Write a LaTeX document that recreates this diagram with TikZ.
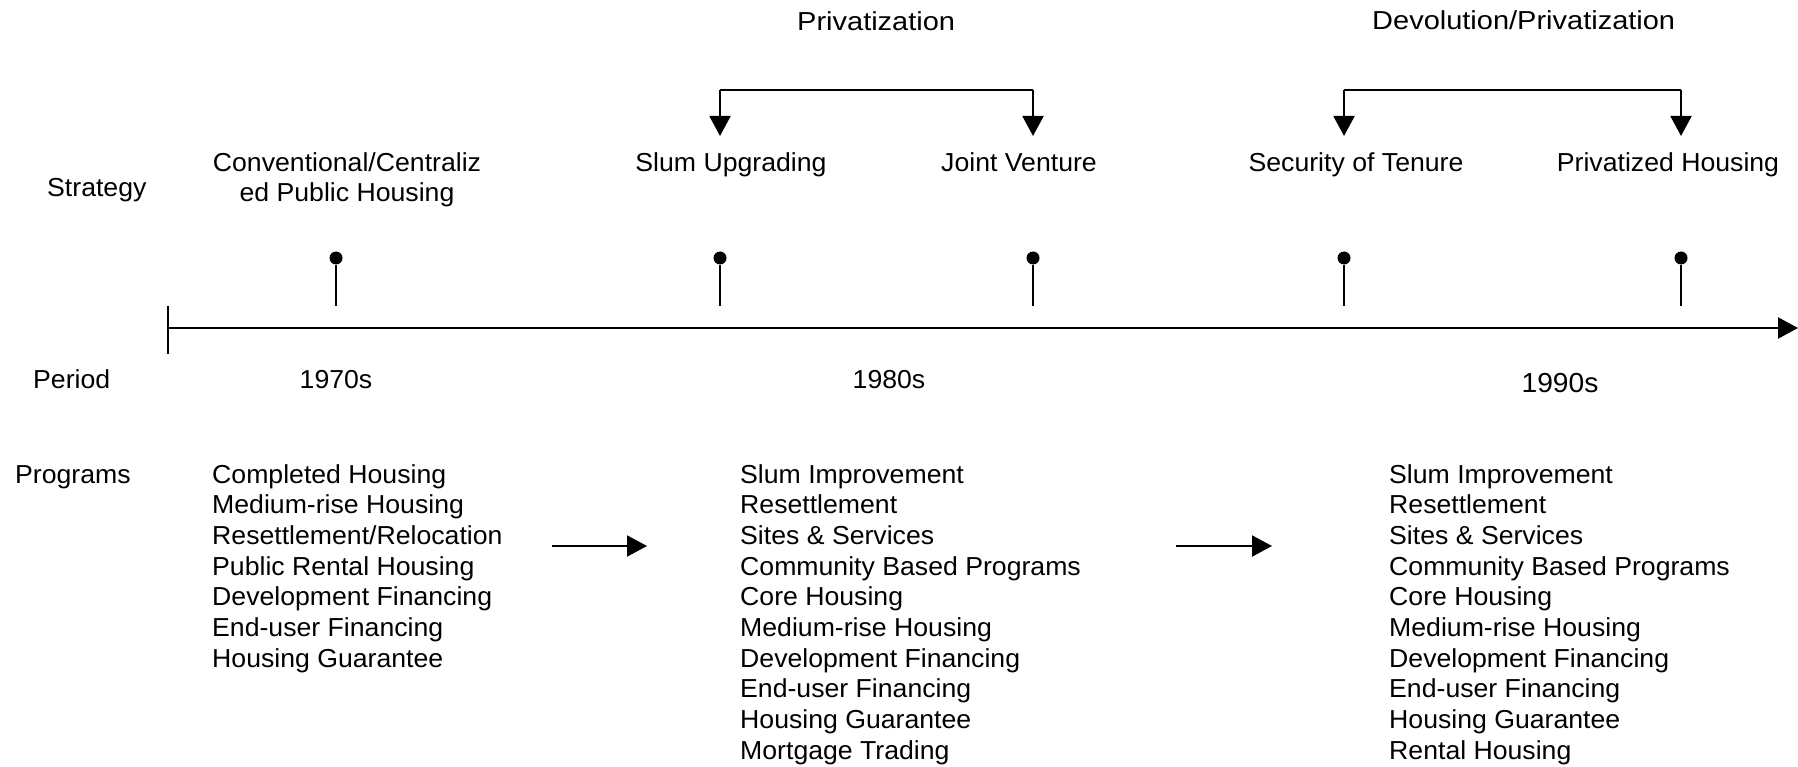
\documentclass[tikz,border=0pt]{standalone}
\usepackage{fontspec}
\setmainfont{Liberation Sans}[FakeStretch=1.025]
\newfontfamily\headfont{Liberation Sans}[FakeStretch=1.115]
\usetikzlibrary{arrows.meta}
\begin{document}
\begin{tikzpicture}[x=1pt,y=-1pt,
  txt/.style={inner sep=0pt, font=\fontsize{26}{30.7}\selectfont},
  head/.style={inner sep=0pt, font=\headfont\fontsize{26}{30.7}\selectfont},
  ln/.style={line width=2pt},
  arr/.style={ln, -{Triangle[length=20pt,width=21pt]}},
  pindot/.style={circle, fill, inner sep=0pt, minimum size=13pt}]
\useasboundingbox (0,0) rectangle (1798,767);

% row labels
\node[txt, anchor=base west] (lstrat) at (47,197) {Strategy};
\node[txt, anchor=base west] (lper) at (33,388) {Period};
\node[txt, anchor=base west] (lprog) at (15,483) {Programs};

% strategies
\node[txt, anchor=base] (s1) at (347,172) {\begin{tabular}[t]{@{}c@{}}Conventional/Centraliz\\[-0.7pt]ed Public Housing\end{tabular}};
\node[txt, anchor=base] (s2) at (731,172) {Slum Upgrading};
\node[txt, anchor=base] (s3) at (1019,172) {Joint Venture};
\node[txt, anchor=base] (s4) at (1356,172) {Security of Tenure};
\node[txt, anchor=base] (s5) at (1668,172) {Privatized Housing};

% group headings
\node[head, anchor=base west] (g1) at (797,31) {Privatization};
\node[head, anchor=base west] (g2) at (1372,30) {Devolution/Privatization};

% brackets
\coordinate (b1l) at (720,136);
\coordinate (b1r) at (1033,136);
\coordinate (b1tl) at (720,90);
\coordinate (b1tr) at (1033,90);
\draw[ln] (b1tr) -- (b1tl);
\draw[arr] (b1tl) -- (b1l);
\draw[arr] (b1tr) -- (b1r);
\coordinate (b2l) at (1344,136);
\coordinate (b2r) at (1681,136);
\coordinate (b2tl) at (1344,90);
\coordinate (b2tr) at (1681,90);
\draw[ln] (b2tr) -- (b2tl);
\draw[arr] (b2tl) -- (b2l);
\draw[arr] (b2tr) -- (b2r);

% pins
\foreach \i/\x in {1/336,2/720,3/1033,4/1344,5/1681}{
  \node[pindot] (p\i) at (\x,258) {};
  \coordinate (p\i b) at (\x,306);
  \draw[ln] (p\i) -- (p\i b);
}

% axis
\coordinate (ax0) at (168,328);
\coordinate (ax1) at (1798,328);
\coordinate (tk0) at (168,306);
\coordinate (tk1) at (168,354);
\draw[arr] (ax0) -- (ax1);
\draw[ln] (tk0) -- (tk1);

% periods
\node[txt, anchor=base] (y70) at (336,388) {1970s};
\node[txt, anchor=base] (y80) at (889,388) {1980s};
\node[inner sep=0pt, font=\fontsize{27.5}{30}\selectfont, anchor=base] (y90) at (1560,392) {1990s};

% program lists
\node[txt, anchor=base west] (pl1) at (212,483) {\begin{tabular}[t]{@{}l@{}}Completed Housing\\Medium-rise Housing\\Resettlement/Relocation\\Public Rental Housing\\Development Financing\\End-user Financing\\Housing Guarantee\end{tabular}};
\node[txt, anchor=base west] (pl2) at (740,483) {\begin{tabular}[t]{@{}l@{}}Slum Improvement\\Resettlement\\Sites \& Services\\Community Based Programs\\Core Housing\\Medium-rise Housing\\Development Financing\\End-user Financing\\Housing Guarantee\\Mortgage Trading\end{tabular}};
\node[txt, anchor=base west] (pl3) at (1389,483) {\begin{tabular}[t]{@{}l@{}}Slum Improvement\\Resettlement\\Sites \& Services\\Community Based Programs\\Core Housing\\Medium-rise Housing\\Development Financing\\End-user Financing\\Housing Guarantee\\Rental Housing\end{tabular}};

% transitions
\coordinate (t1a) at (552,546);
\coordinate (t1b) at (647,546);
\coordinate (t2a) at (1176,546);
\coordinate (t2b) at (1272,546);
\draw[arr] (t1a) -- (t1b);
\draw[arr] (t2a) -- (t2b);
\end{tikzpicture}
\end{document}
